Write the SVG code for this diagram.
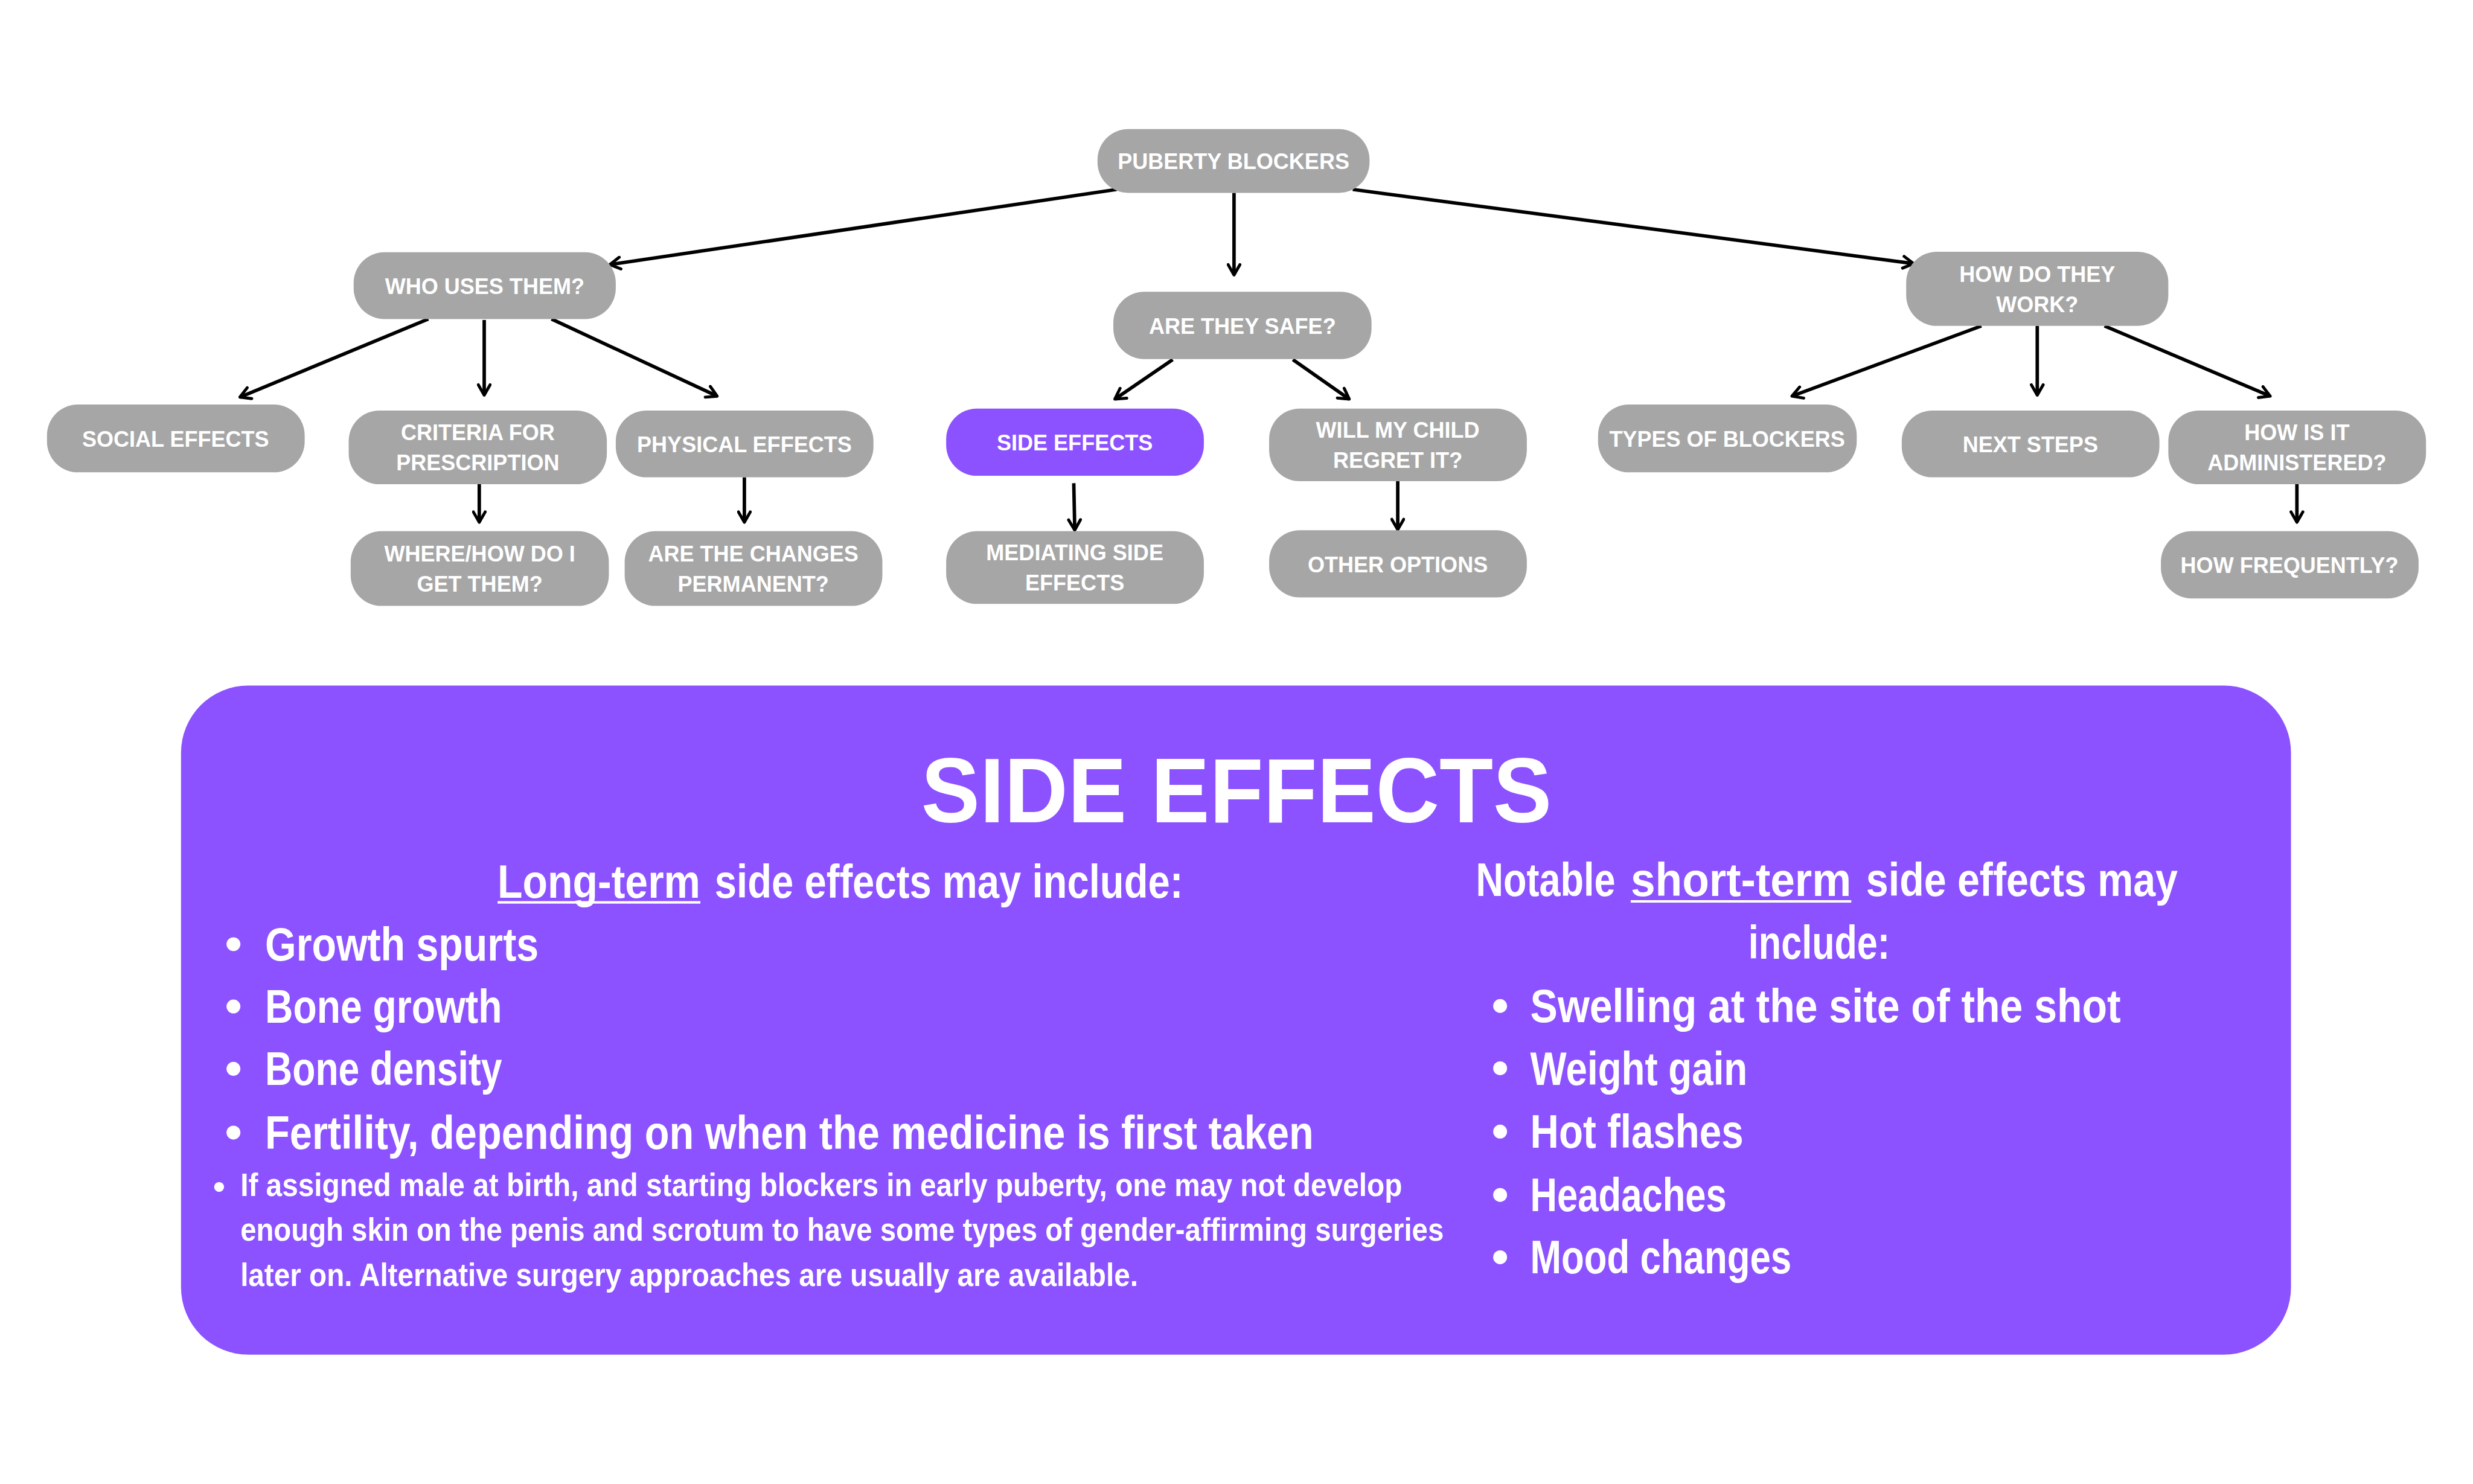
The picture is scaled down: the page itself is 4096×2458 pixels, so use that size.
<svg xmlns="http://www.w3.org/2000/svg" width="4096" height="2458" viewBox="0 0 4096 2458">
<style>
.nd{fill:#A6A6A6}
.pu{fill:#8C52FF}
.nt{font-family:"Liberation Sans",Arial,sans-serif;font-weight:bold;font-size:44px;fill:#fff;text-anchor:middle}
.cn line{stroke:#000;stroke-width:7;fill:none;marker-end:url(#ah)}
.bt{font-family:"Liberation Sans",Arial,sans-serif;font-weight:bold;font-size:94px;fill:#fff}
.st{font-family:"Liberation Sans",Arial,sans-serif;font-weight:bold;font-size:66px;fill:#fff}
.dot{fill:#fff}
</style>
<defs>
<marker id="ah" markerUnits="userSpaceOnUse" viewBox="0 0 30 30" markerWidth="30" markerHeight="30" refX="25" refY="15" orient="auto">
<path d="M4,3 L25,15 L4,27" fill="none" stroke="#000" stroke-width="6" stroke-linecap="round" stroke-linejoin="round"/>
</marker>
</defs>
<rect width="4096" height="2458" fill="#fff"/>
<g transform="scale(0.8192)">
<g id="connectors" class="cn">
<line x1="2258" y1="383" x2="1233" y2="535"/>
<line x1="2495" y1="390" x2="2495" y2="556"/>
<line x1="2735" y1="383" x2="3869" y2="533"/>
<line x1="866" y1="645" x2="485" y2="803"/>
<line x1="979" y1="647" x2="979" y2="799"/>
<line x1="1115" y1="645" x2="1450" y2="801"/>
<line x1="969" y1="979" x2="969" y2="1056"/>
<line x1="1505" y1="965" x2="1505" y2="1056"/>
<line x1="2371" y1="727" x2="2254" y2="807"/>
<line x1="2614" y1="727" x2="2728" y2="807"/>
<line x1="2171" y1="977" x2="2173" y2="1072"/>
<line x1="2826" y1="973" x2="2826" y2="1071"/>
<line x1="4006" y1="659" x2="3623" y2="801"/>
<line x1="4119" y1="659" x2="4119" y2="799"/>
<line x1="4255" y1="659" x2="4590" y2="801"/>
<line x1="4644" y1="979" x2="4644" y2="1056"/>
</g>
<g id="n-puberty"><rect class="nd" x="2219" y="261" width="550" height="129" rx="62"/><text class="nt" x="2494" y="342">PUBERTY BLOCKERS</text></g>
<g id="n-who"><rect class="nd" x="715" y="510" width="530" height="135" rx="62"/><text class="nt" x="980" y="594">WHO USES THEM?</text></g>
<g id="n-social"><rect class="nd" x="95" y="818" width="521" height="137" rx="62"/><text class="nt" x="355" y="903">SOCIAL EFFECTS</text></g>
<g id="n-criteria"><rect class="nd" x="705" y="830" width="522" height="149" rx="62"/><text class="nt" x="966" y="890">CRITERIA FOR</text><text class="nt" x="966" y="951">PRESCRIPTION</text></g>
<g id="n-physical"><rect class="nd" x="1245" y="830" width="521" height="135" rx="62"/><text class="nt" x="1505" y="914">PHYSICAL EFFECTS</text></g>
<g id="n-where"><rect class="nd" x="709" y="1074" width="522" height="151" rx="62"/><text class="nt" x="970" y="1135">WHERE/HOW DO I</text><text class="nt" x="970" y="1196">GET THEM?</text></g>
<g id="n-permanent"><rect class="nd" x="1263" y="1074" width="521" height="151" rx="62"/><text class="nt" x="1523" y="1135">ARE THE CHANGES</text><text class="nt" x="1523" y="1196">PERMANENT?</text></g>
<g id="n-safe"><rect class="nd" x="2251" y="590" width="522" height="136" rx="62"/><text class="nt" x="2512" y="675">ARE THEY SAFE?</text></g>
<g id="n-side"><rect class="pu" x="1913" y="826" width="521" height="136" rx="62"/><text class="nt" x="2173" y="911">SIDE EFFECTS</text></g>
<g id="n-regret"><rect class="nd" x="2566" y="826" width="521" height="147" rx="62"/><text class="nt" x="2826" y="885">WILL MY CHILD</text><text class="nt" x="2826" y="946">REGRET IT?</text></g>
<g id="n-mediating"><rect class="nd" x="1913" y="1074" width="521" height="147" rx="62"/><text class="nt" x="2173" y="1133">MEDIATING SIDE</text><text class="nt" x="2173" y="1194">EFFECTS</text></g>
<g id="n-other"><rect class="nd" x="2566" y="1072" width="521" height="136" rx="62"/><text class="nt" x="2826" y="1157">OTHER OPTIONS</text></g>
<g id="n-how"><rect class="nd" x="3854" y="509" width="530" height="150" rx="62"/><text class="nt" x="4119" y="570">HOW DO THEY</text><text class="nt" x="4119" y="631">WORK?</text></g>
<g id="n-types"><rect class="nd" x="3231" y="818" width="523" height="137" rx="62"/><text class="nt" x="3492" y="903">TYPES OF BLOCKERS</text></g>
<g id="n-next"><rect class="nd" x="3845" y="830" width="521" height="135" rx="62"/><text class="nt" x="4105" y="914">NEXT STEPS</text></g>
<g id="n-admin"><rect class="nd" x="4384" y="830" width="521" height="149" rx="62"/><text class="nt" x="4644" y="890">HOW IS IT</text><text class="nt" x="4644" y="951">ADMINISTERED?</text></g>
<g id="n-freq"><rect class="nd" x="4369" y="1074" width="521" height="136" rx="62"/><text class="nt" x="4629" y="1159">HOW FREQUENTLY?</text></g>
<g id="panel">
<rect class="pu" x="366" y="1386" width="4266" height="1353" rx="136"/>
<text x="2500" y="1663" font-family="Liberation Sans,Arial,sans-serif" font-weight="bold" font-size="186" fill="#fff" text-anchor="middle" textLength="1275" lengthAdjust="spacingAndGlyphs">SIDE EFFECTS</text>
<text class="bt" x="1006" y="1815" textLength="410" lengthAdjust="spacingAndGlyphs">Long-term</text>
<rect x="1006" y="1822" width="410" height="5" fill="#fff"/>
<text class="bt" x="1445" y="1815" textLength="947" lengthAdjust="spacingAndGlyphs">side effects may include:</text>
<circle class="dot" cx="472" cy="1909" r="14"/>
<text class="bt" x="536" y="1942" textLength="553" lengthAdjust="spacingAndGlyphs">Growth spurts</text>
<circle class="dot" cx="472" cy="2035" r="14"/>
<text class="bt" x="536" y="2068" textLength="479" lengthAdjust="spacingAndGlyphs">Bone growth</text>
<circle class="dot" cx="472" cy="2161" r="14"/>
<text class="bt" x="536" y="2194" textLength="479" lengthAdjust="spacingAndGlyphs">Bone density</text>
<circle class="dot" cx="472" cy="2290" r="14"/>
<text class="bt" x="536" y="2323" textLength="2120" lengthAdjust="spacingAndGlyphs">Fertility, depending on when the medicine is first taken</text>
<circle class="dot" cx="443" cy="2400" r="10"/>
<text class="st" x="486" y="2418" textLength="2349" lengthAdjust="spacingAndGlyphs">If assigned male at birth, and starting blockers in early puberty, one may not develop</text>
<text class="st" x="486" y="2509" textLength="2433" lengthAdjust="spacingAndGlyphs">enough skin on the penis and scrotum to have some types of gender-affirming surgeries</text>
<text class="st" x="486" y="2600" textLength="1815" lengthAdjust="spacingAndGlyphs">later on. Alternative surgery approaches are usually are available.</text>
<text class="bt" x="2984" y="1812" textLength="282" lengthAdjust="spacingAndGlyphs">Notable</text>
<text class="bt" x="3297" y="1812" textLength="446" lengthAdjust="spacingAndGlyphs">short-term</text>
<rect x="3297" y="1820" width="446" height="5" fill="#fff"/>
<text class="bt" x="3773" y="1812" textLength="630" lengthAdjust="spacingAndGlyphs">side effects may</text>
<text class="bt" x="3535" y="1939" textLength="286" lengthAdjust="spacingAndGlyphs">include:</text>
<circle class="dot" cx="3033" cy="2034" r="14"/>
<text class="bt" x="3094" y="2067" textLength="1194" lengthAdjust="spacingAndGlyphs">Swelling at the site of the shot</text>
<circle class="dot" cx="3033" cy="2160" r="14"/>
<text class="bt" x="3094" y="2193" textLength="439" lengthAdjust="spacingAndGlyphs">Weight gain</text>
<circle class="dot" cx="3033" cy="2288" r="14"/>
<text class="bt" x="3094" y="2321" textLength="431" lengthAdjust="spacingAndGlyphs">Hot flashes</text>
<circle class="dot" cx="3033" cy="2416" r="14"/>
<text class="bt" x="3094" y="2449" textLength="397" lengthAdjust="spacingAndGlyphs">Headaches</text>
<circle class="dot" cx="3033" cy="2542" r="14"/>
<text class="bt" x="3094" y="2575" textLength="528" lengthAdjust="spacingAndGlyphs">Mood changes</text>
</g>
</g>
</svg>
